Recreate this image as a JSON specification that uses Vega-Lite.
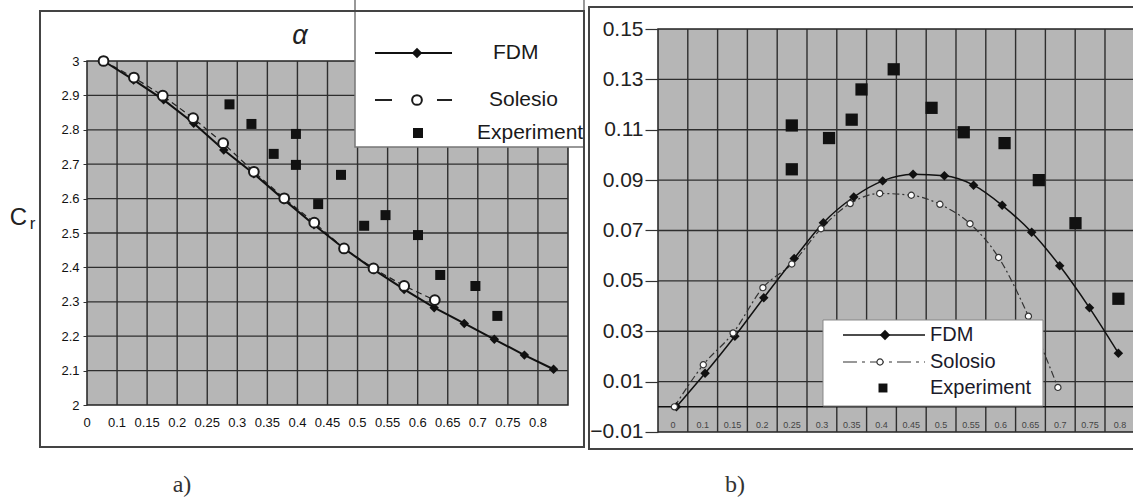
{
  "$schema": "https://vega.github.io/schema/vega-lite/v6.json",
  "background": "white",
  "padding": 0,
  "spacing": 0,
  "bounds": "flush",
  "config": {
    "view": {"stroke": null},
    "font": "Liberation Sans",
    "axis": {"grid": false, "domain": false, "ticks": false, "title": null, "labelOverlap": false}
  },
  "datasets": {
    "grid_xa": [{"g":1},{"g":2},{"g":3},{"g":4},{"g":5},{"g":6},{"g":7},{"g":8},{"g":9},{"g":10},{"g":11},{"g":12},{"g":13},{"g":14},{"g":15}],
    "grid_ya": [{"v":2.1},{"v":2.2},{"v":2.3},{"v":2.4},{"v":2.5},{"v":2.6},{"v":2.7},{"v":2.8},{"v":2.9}],
    "grid_xb": [{"g":1},{"g":2},{"g":3},{"g":4},{"g":5},{"g":6},{"g":7},{"g":8},{"g":9},{"g":10},{"g":11},{"g":12},{"g":13},{"g":14},{"g":15}],
    "grid_yb": [{"v":0.01},{"v":0.03},{"v":0.05},{"v":0.07},{"v":0.09},{"v":0.11},{"v":0.13}],
    "xlab_a": [{"pos":0,"lab":"0"},{"pos":1,"lab":"0.1"},{"pos":2,"lab":"0.15"},{"pos":3,"lab":"0.2"},{"pos":4,"lab":"0.25"},{"pos":5,"lab":"0.3"},{"pos":6,"lab":"0.35"},{"pos":7,"lab":"0.4"},{"pos":8,"lab":"0.45"},{"pos":9,"lab":"0.5"},{"pos":10,"lab":"0.55"},{"pos":11,"lab":"0.6"},{"pos":12,"lab":"0.65"},{"pos":13,"lab":"0.7"},{"pos":14,"lab":"0.75"},{"pos":15,"lab":"0.8"}],
    "xlab_b": [{"pos":0.5,"lab":"0"},{"pos":1.5,"lab":"0.1"},{"pos":2.5,"lab":"0.15"},{"pos":3.5,"lab":"0.2"},{"pos":4.5,"lab":"0.25"},{"pos":5.5,"lab":"0.3"},{"pos":6.5,"lab":"0.35"},{"pos":7.5,"lab":"0.4"},{"pos":8.5,"lab":"0.45"},{"pos":9.5,"lab":"0.5"},{"pos":10.5,"lab":"0.55"},{"pos":11.5,"lab":"0.6"},{"pos":12.5,"lab":"0.65"},{"pos":13.5,"lab":"0.7"},{"pos":14.5,"lab":"0.75"},{"pos":15.5,"lab":"0.8"}],
    "fdm_a": [{"pos":0.55,"cr":3.0},{"pos":1.55,"cr":2.945},{"pos":2.55,"cr":2.887},{"pos":3.55,"cr":2.819},{"pos":4.55,"cr":2.741},{"pos":5.55,"cr":2.672},{"pos":6.55,"cr":2.597},{"pos":7.55,"cr":2.524},{"pos":8.55,"cr":2.455},{"pos":9.55,"cr":2.393},{"pos":10.55,"cr":2.336},{"pos":11.55,"cr":2.283},{"pos":12.55,"cr":2.237},{"pos":13.55,"cr":2.191},{"pos":14.55,"cr":2.145},{"pos":15.52,"cr":2.104}],
    "sol_a": [{"pos":0.55,"cr":3.0},{"pos":1.56,"cr":2.952},{"pos":2.52,"cr":2.899},{"pos":3.53,"cr":2.834},{"pos":4.53,"cr":2.761},{"pos":5.55,"cr":2.678},{"pos":6.56,"cr":2.601},{"pos":7.56,"cr":2.53},{"pos":8.55,"cr":2.455},{"pos":9.53,"cr":2.397},{"pos":10.55,"cr":2.346},{"pos":11.57,"cr":2.305}],
    "exp_a": [{"pos":4.74,"cr":2.874},{"pos":5.47,"cr":2.817},{"pos":6.95,"cr":2.788},{"pos":6.21,"cr":2.73},{"pos":6.95,"cr":2.698},{"pos":8.45,"cr":2.669},{"pos":7.69,"cr":2.584},{"pos":9.22,"cr":2.521},{"pos":9.93,"cr":2.552},{"pos":11.01,"cr":2.494},{"pos":11.75,"cr":2.378},{"pos":12.92,"cr":2.346},{"pos":13.65,"cr":2.259}],
    "fdm_b": [{"pos":0.62,"c":0.0},{"pos":1.58,"c":0.0133},{"pos":2.58,"c":0.028},{"pos":3.55,"c":0.0433},{"pos":4.57,"c":0.0589},{"pos":5.55,"c":0.0731},{"pos":6.57,"c":0.0833},{"pos":7.54,"c":0.0897},{"pos":8.56,"c":0.0923},{"pos":9.61,"c":0.0917},{"pos":10.59,"c":0.088},{"pos":11.55,"c":0.08},{"pos":12.54,"c":0.0693},{"pos":13.48,"c":0.056},{"pos":14.48,"c":0.0393},{"pos":15.45,"c":0.0213}],
    "sol_b": [{"pos":0.55,"c":0.0},{"pos":1.52,"c":0.0167},{"pos":2.52,"c":0.0293},{"pos":3.52,"c":0.0473},{"pos":4.49,"c":0.0567},{"pos":5.47,"c":0.0707},{"pos":6.45,"c":0.0807},{"pos":7.44,"c":0.0847},{"pos":8.5,"c":0.084},{"pos":9.46,"c":0.0804},{"pos":10.47,"c":0.0727},{"pos":11.43,"c":0.0593},{"pos":12.43,"c":0.036},{"pos":13.42,"c":0.0077}],
    "exp_b": [{"pos":4.49,"c":0.1117},{"pos":4.49,"c":0.0943},{"pos":5.74,"c":0.1067},{"pos":6.5,"c":0.114},{"pos":6.83,"c":0.126},{"pos":7.91,"c":0.134},{"pos":9.18,"c":0.1187},{"pos":10.26,"c":0.109},{"pos":11.63,"c":0.1047},{"pos":12.78,"c":0.09},{"pos":14.01,"c":0.0729},{"pos":15.45,"c":0.0429}],
    "one": [{}]
  },
  "hconcat": [
    {
      "width": 586,
      "height": 500,
      "layer": [
        {
          "data": {"name": "one"},
          "mark": {"type": "rect", "fill": "#b6b6b6", "stroke": "#222", "strokeWidth": 1.5},
          "encoding": {
            "x": {"datum": 0, "type": "quantitative",
                  "scale": {"domain": [-2.894, 16.599], "nice": false, "zero": false},
                  "axis": {"labels": false, "ticks": false, "domain": false, "grid": false}},
            "x2": {"datum": 16},
            "y": {"datum": 2, "type": "quantitative",
                  "scale": {"domain": [1.72384, 3.17733], "nice": false, "zero": false},
                  "axis": {"orient": "left", "offset": -87, "values": [2,2.1,2.2,2.3,2.4,2.5,2.6,2.7,2.8,2.9,3],
                           "format": ".1~f", "ticks": true, "tickSize": 4, "tickColor": "#333",
                           "labelPadding": 4, "labelFontSize": 13, "labelColor": "#111", "labelFont": "Liberation Sans",
                           "labelOverlap": false, "labelFlush": false, "labelBound": false, "zindex": 1}},
            "y2": {"datum": 3}
          }
        },
        {
          "data": {"name": "grid_xa"},
          "mark": {"type": "rule", "color": "#2e2e2e", "strokeWidth": 1.4},
          "encoding": {"x": {"field": "g", "type": "quantitative", "title": null}, "y": {"datum": 2}, "y2": {"datum": 3}}
        },
        {
          "data": {"name": "grid_ya"},
          "mark": {"type": "rule", "color": "#2e2e2e", "strokeWidth": 1.3},
          "encoding": {"y": {"field": "v", "type": "quantitative", "title": null}, "x": {"datum": 0}, "x2": {"datum": 16}}
        },
        {
          "data": {"name": "xlab_a"},
          "mark": {"type": "text", "align": "center", "baseline": "middle", "fontSize": 13, "font": "Liberation Sans", "color": "#111"},
          "encoding": {"x": {"field": "pos", "type": "quantitative", "title": null}, "y": {"datum": 1.94767}, "text": {"field": "lab"}}
        },
        {
          "data": {"name": "sol_a"},
          "mark": {"type": "line", "color": "#222", "strokeWidth": 1.2, "strokeDash": [6, 4]},
          "encoding": {"x": {"field": "pos", "type": "quantitative", "title": null}, "y": {"field": "cr", "type": "quantitative", "title": null}}
        },
        {
          "data": {"name": "fdm_a"},
          "mark": {"type": "line", "color": "#111", "strokeWidth": 2},
          "encoding": {"x": {"field": "pos", "type": "quantitative", "title": null}, "y": {"field": "cr", "type": "quantitative", "title": null}}
        },
        {
          "data": {"name": "fdm_a"},
          "mark": {"type": "point", "shape": "diamond", "filled": true, "color": "#111", "size": 90, "opacity": 1},
          "encoding": {"x": {"field": "pos", "type": "quantitative", "title": null}, "y": {"field": "cr", "type": "quantitative", "title": null}}
        },
        {
          "data": {"name": "sol_a"},
          "mark": {"type": "point", "shape": "circle", "filled": false, "fill": "white", "fillOpacity": 1, "stroke": "#1a1a1a", "strokeWidth": 2, "size": 95, "opacity": 1},
          "encoding": {"x": {"field": "pos", "type": "quantitative", "title": null}, "y": {"field": "cr", "type": "quantitative", "title": null}}
        },
        {
          "data": {"name": "exp_a"},
          "mark": {"type": "point", "shape": "square", "filled": true, "color": "#111", "size": 100, "opacity": 1},
          "encoding": {"x": {"field": "pos", "type": "quantitative", "title": null}, "y": {"field": "cr", "type": "quantitative", "title": null}}
        },
        {
          "data": {"name": "one"},
          "mark": {"type": "rect", "fill": "white", "stroke": "#777", "strokeWidth": 1.5, "clip": true},
          "encoding": {"x": {"datum": 8.915}, "x2": {"datum": 16.532}, "y": {"datum": 3.19186}, "y2": {"datum": 2.75}}
        },
        {
          "data": {"name": "one"},
          "mark": {"type": "rule", "color": "#111", "strokeWidth": 2},
          "encoding": {"x": {"datum": 9.58}, "x2": {"datum": 12.142}, "y": {"datum": 3.02326}}
        },
        {
          "data": {"name": "one"},
          "mark": {"type": "point", "shape": "diamond", "filled": true, "color": "#111", "size": 110, "opacity": 1},
          "encoding": {"x": {"datum": 10.977}, "y": {"datum": 3.02326}}
        },
        {
          "data": {"name": "one"},
          "mark": {"type": "rule", "color": "#222", "strokeWidth": 2, "strokeDash": [17, 45]},
          "encoding": {"x": {"datum": 9.58}, "x2": {"datum": 12.142}, "y": {"datum": 2.88663}}
        },
        {
          "data": {"name": "one"},
          "mark": {"type": "point", "shape": "circle", "filled": false, "fill": "white", "fillOpacity": 1, "stroke": "#1a1a1a", "strokeWidth": 2, "size": 95, "opacity": 1},
          "encoding": {"x": {"datum": 10.977}, "y": {"datum": 2.88663}}
        },
        {
          "data": {"name": "one"},
          "mark": {"type": "point", "shape": "square", "filled": true, "color": "#111", "size": 100, "opacity": 1},
          "encoding": {"x": {"datum": 11.01}, "y": {"datum": 2.7907}}
        },
        {
          "data": {"name": "one"},
          "mark": {"type": "text", "text": "FDM", "align": "left", "baseline": "middle", "fontSize": 21, "font": "Liberation Sans", "color": "#1a1a1a"},
          "encoding": {"x": {"datum": 13.505}, "y": {"datum": 3.02326}}
        },
        {
          "data": {"name": "one"},
          "mark": {"type": "text", "text": "Solesio", "align": "left", "baseline": "middle", "fontSize": 21, "font": "Liberation Sans", "color": "#1a1a1a"},
          "encoding": {"x": {"datum": 13.372}, "y": {"datum": 2.88663}}
        },
        {
          "data": {"name": "one"},
          "mark": {"type": "text", "text": "Experiment", "align": "left", "baseline": "middle", "fontSize": 21, "font": "Liberation Sans", "color": "#1a1a1a", "clip": true},
          "encoding": {"x": {"datum": 12.973}, "y": {"datum": 2.7907}}
        },
        {
          "data": {"name": "one"},
          "mark": {"type": "rect", "filled": false, "color": "#444", "strokeWidth": 2},
          "encoding": {"x": {"datum": -1.5635}, "x2": {"datum": 16.532}, "y": {"datum": 3.14535}, "y2": {"datum": 1.87791}}
        },
        {
          "data": {"name": "one"},
          "mark": {"type": "text", "text": "α", "align": "center", "baseline": "middle", "fontSize": 27, "fontStyle": "italic", "font": "Liberation Sans", "color": "#222"},
          "encoding": {"x": {"datum": 7.085}, "y": {"datum": 3.0727}}
        },
        {
          "data": {"name": "one"},
          "mark": {"type": "text", "text": "C", "align": "center", "baseline": "middle", "fontSize": 24, "font": "Liberation Sans", "color": "#222"},
          "encoding": {"x": {"datum": -2.2786}, "y": {"datum": 2.5422}}
        },
        {
          "data": {"name": "one"},
          "mark": {"type": "text", "text": "r", "align": "center", "baseline": "middle", "fontSize": 17, "font": "Liberation Sans", "color": "#222"},
          "encoding": {"x": {"datum": -1.8129}, "y": {"datum": 2.5262}}
        },
        {
          "data": {"name": "one"},
          "mark": {"type": "text", "text": "a)", "align": "center", "baseline": "middle", "fontSize": 24, "font": "Liberation Serif", "color": "#333"},
          "encoding": {"x": {"datum": 3.16}, "y": {"datum": 1.76744}}
        }
      ]
    },
    {
      "width": 547,
      "height": 500,
      "layer": [
        {
          "data": {"name": "one"},
          "mark": {"type": "rect", "fill": "#b6b6b6", "stroke": "#222", "strokeWidth": 1.5, "clip": true},
          "encoding": {
            "x": {"datum": 0, "type": "quantitative",
                  "scale": {"domain": [-2.416, 15.94], "nice": false, "zero": false},
                  "axis": {"labels": false, "ticks": false, "domain": false, "grid": false}},
            "x2": {"datum": 16.3},
            "y": {"datum": -0.01, "type": "quantitative",
                  "scale": {"domain": [-0.036998, 0.161514], "nice": false, "zero": false},
                  "axis": {"orient": "left", "offset": -72, "values": [-0.01,0.01,0.03,0.05,0.07,0.09,0.11,0.13,0.15],
                           "format": ".2f", "ticks": true, "tickSize": 13, "tickColor": "#333", "tickWidth": 1.2,
                           "labelPadding": 2, "labelFontSize": 21, "labelColor": "#222", "labelFont": "Liberation Sans",
                           "labelOverlap": false, "labelFlush": false, "labelBound": false, "zindex": 1}},
            "y2": {"datum": 0.15}
          }
        },
        {
          "data": {"name": "grid_xb"},
          "mark": {"type": "rule", "color": "#2e2e2e", "strokeWidth": 1.4},
          "encoding": {"x": {"field": "g", "type": "quantitative", "title": null}, "y": {"datum": -0.01}, "y2": {"datum": 0.15}}
        },
        {
          "data": {"name": "grid_yb"},
          "mark": {"type": "rule", "color": "#2e2e2e", "strokeWidth": 1.3, "clip": true},
          "encoding": {"y": {"field": "v", "type": "quantitative", "title": null}, "x": {"datum": 0}, "x2": {"datum": 16.3}}
        },
        {
          "data": {"name": "one"},
          "mark": {"type": "rule", "color": "#111", "strokeWidth": 1.6, "clip": true},
          "encoding": {"y": {"datum": 0}, "x": {"datum": 0}, "x2": {"datum": 16.3}}
        },
        {
          "data": {"name": "xlab_b"},
          "mark": {"type": "text", "align": "center", "baseline": "middle", "fontSize": 9, "font": "Liberation Sans", "color": "#444"},
          "encoding": {"x": {"field": "pos", "type": "quantitative", "title": null}, "y": {"datum": -0.0072}, "text": {"field": "lab"}}
        },
        {
          "data": {"name": "sol_b"},
          "mark": {"type": "line", "color": "#333", "strokeWidth": 1.2, "strokeDash": [7, 3, 2, 3], "interpolate": "monotone"},
          "encoding": {"x": {"field": "pos", "type": "quantitative", "title": null}, "y": {"field": "c", "type": "quantitative", "title": null}}
        },
        {
          "data": {"name": "fdm_b"},
          "mark": {"type": "line", "color": "#111", "strokeWidth": 1.5, "interpolate": "monotone"},
          "encoding": {"x": {"field": "pos", "type": "quantitative", "title": null}, "y": {"field": "c", "type": "quantitative", "title": null}}
        },
        {
          "data": {"name": "fdm_b"},
          "mark": {"type": "point", "shape": "diamond", "filled": true, "color": "#111", "size": 90, "opacity": 1},
          "encoding": {"x": {"field": "pos", "type": "quantitative", "title": null}, "y": {"field": "c", "type": "quantitative", "title": null}}
        },
        {
          "data": {"name": "sol_b"},
          "mark": {"type": "point", "shape": "circle", "filled": false, "fill": "white", "fillOpacity": 1, "stroke": "#333", "strokeWidth": 1.2, "size": 38, "opacity": 1},
          "encoding": {"x": {"field": "pos", "type": "quantitative", "title": null}, "y": {"field": "c", "type": "quantitative", "title": null}}
        },
        {
          "data": {"name": "exp_b"},
          "mark": {"type": "point", "shape": "square", "filled": true, "color": "#111", "size": 150, "opacity": 1},
          "encoding": {"x": {"field": "pos", "type": "quantitative", "title": null}, "y": {"field": "c", "type": "quantitative", "title": null}}
        },
        {
          "data": {"name": "one"},
          "mark": {"type": "rect", "fill": "white", "stroke": "#888", "strokeWidth": 1},
          "encoding": {"x": {"datum": 5.537}, "x2": {"datum": 12.919}, "y": {"datum": 0.03447}, "y2": {"datum": 0.00032}}
        },
        {
          "data": {"name": "one"},
          "mark": {"type": "rule", "color": "#111", "strokeWidth": 1.5},
          "encoding": {"x": {"datum": 6.208}, "x2": {"datum": 8.96}, "y": {"datum": 0.02851}}
        },
        {
          "data": {"name": "one"},
          "mark": {"type": "point", "shape": "diamond", "filled": true, "color": "#111", "size": 110, "opacity": 1},
          "encoding": {"x": {"datum": 7.617}, "y": {"datum": 0.02851}}
        },
        {
          "data": {"name": "one"},
          "mark": {"type": "rule", "color": "#333", "strokeWidth": 1.2, "strokeDash": [14, 5, 3, 5]},
          "encoding": {"x": {"datum": 6.208}, "x2": {"datum": 8.96}, "y": {"datum": 0.01779}}
        },
        {
          "data": {"name": "one"},
          "mark": {"type": "point", "shape": "circle", "filled": false, "fill": "white", "fillOpacity": 1, "stroke": "#333", "strokeWidth": 1.2, "size": 38, "opacity": 1},
          "encoding": {"x": {"datum": 7.45}, "y": {"datum": 0.01779}}
        },
        {
          "data": {"name": "one"},
          "mark": {"type": "point", "shape": "square", "filled": true, "color": "#111", "size": 80, "opacity": 1},
          "encoding": {"x": {"datum": 7.55}, "y": {"datum": 0.00747}}
        },
        {
          "data": {"name": "one"},
          "mark": {"type": "text", "text": "FDM", "align": "left", "baseline": "middle", "fontSize": 20, "font": "Liberation Sans", "color": "#1a1a2a"},
          "encoding": {"x": {"datum": 9.128}, "y": {"datum": 0.02851}}
        },
        {
          "data": {"name": "one"},
          "mark": {"type": "text", "text": "Solosio", "align": "left", "baseline": "middle", "fontSize": 20, "font": "Liberation Sans", "color": "#1a1a2a"},
          "encoding": {"x": {"datum": 9.128}, "y": {"datum": 0.01779}}
        },
        {
          "data": {"name": "one"},
          "mark": {"type": "text", "text": "Experiment", "align": "left", "baseline": "middle", "fontSize": 20, "font": "Liberation Sans", "color": "#1a1a2a"},
          "encoding": {"x": {"datum": 9.128}, "y": {"datum": 0.00747}}
        },
        {
          "data": {"name": "one"},
          "mark": {"type": "rect", "filled": false, "color": "#444", "strokeWidth": 2, "clip": true},
          "encoding": {"x": {"datum": -2.3154}, "x2": {"datum": 16.6}, "y": {"datum": 0.158734}, "y2": {"datum": -0.016749}}
        },
        {
          "data": {"name": "one"},
          "mark": {"type": "text", "text": "b)", "align": "center", "baseline": "middle", "fontSize": 24, "font": "Liberation Serif", "color": "#333"},
          "encoding": {"x": {"datum": 2.584}, "y": {"datum": -0.031042}}
        }
      ]
    }
  ]
}
